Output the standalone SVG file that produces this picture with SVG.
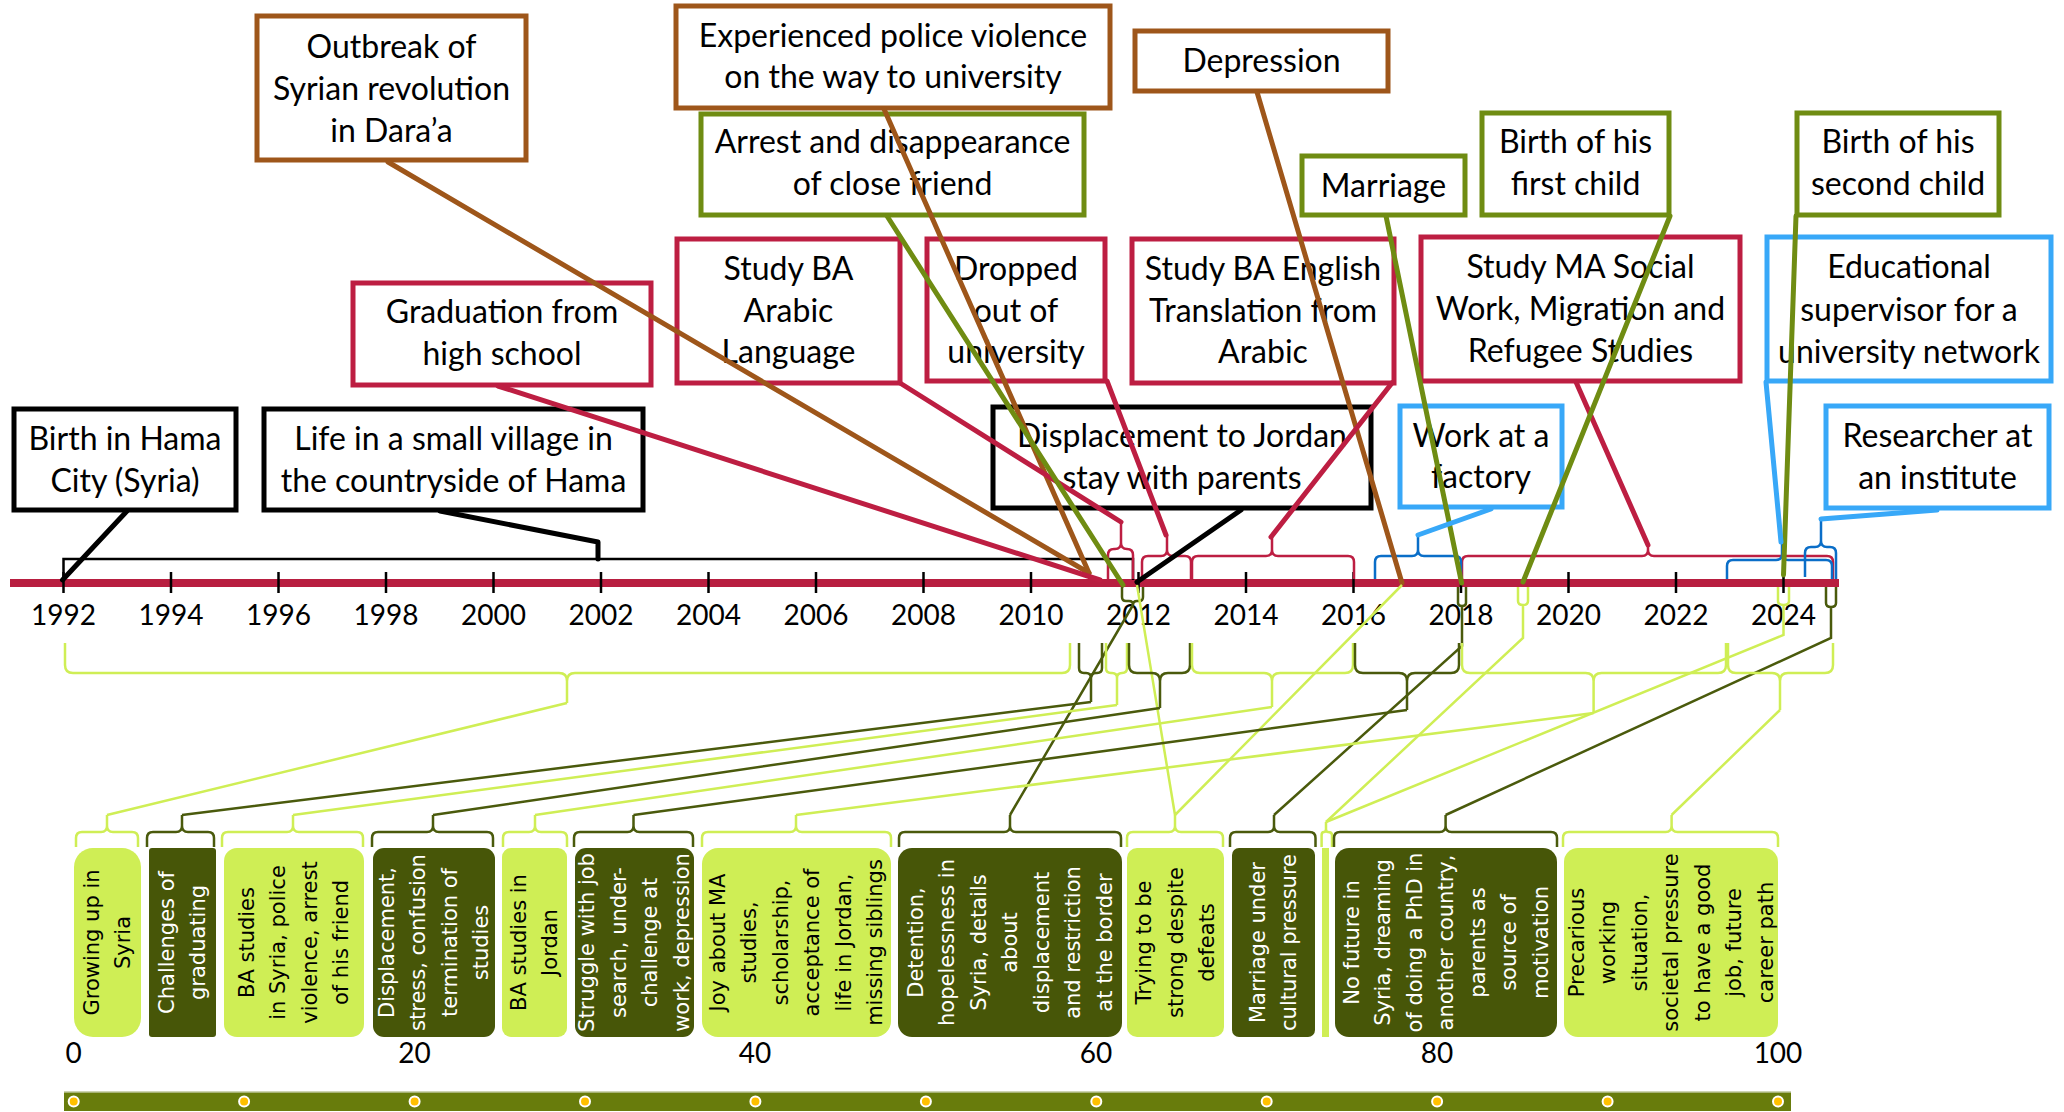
<svg xmlns="http://www.w3.org/2000/svg" width="2064" height="1112" viewBox="0 0 2064 1112">
<style>
.box{fill:#fff;stroke-width:5}
.brn{stroke:#9E561A}.red{stroke:#BD1E42}.grn{stroke:#6F8C12}.blu{stroke:#38A8F8}.blk{stroke:#000}
.t{font-family:Lato,'Liberation Sans',sans-serif;font-size:32px;text-anchor:middle;fill:#000}
.yr{font-family:Lato,'Liberation Sans',sans-serif;font-size:28px;text-anchor:middle;fill:#000}
.cn{fill:none;stroke-width:5;stroke-linecap:round;stroke-linejoin:round}
.bra{fill:none;stroke-width:2.5}
.rb{stroke:#BD1E42}.bb{stroke:#0A6EC8}.lg{stroke:#CFEE55}.dg{stroke:#4A5A0C}
.lbox{fill:#CFEE55}.dbox{fill:#475608}
.bt{font-family:'DejaVu Sans',Verdana,sans-serif;font-size:21px;text-anchor:middle}
.bk{fill:#000}.wh{fill:#fff}
.tick{stroke:#000;stroke-width:2.5}
</style>

<g id="axis">
<line x1="10" y1="583" x2="1839" y2="583" stroke="#B81E40" stroke-width="8"/>
<g class="tick">
<line x1="63.5" y1="572" x2="63.5" y2="593"/><line x1="171" y1="572" x2="171" y2="593"/><line x1="278.5" y1="572" x2="278.5" y2="593"/><line x1="386" y1="572" x2="386" y2="593"/><line x1="493.5" y1="572" x2="493.5" y2="593"/><line x1="601" y1="572" x2="601" y2="593"/><line x1="708.5" y1="572" x2="708.5" y2="593"/><line x1="816" y1="572" x2="816" y2="593"/><line x1="923.5" y1="572" x2="923.5" y2="593"/><line x1="1031" y1="572" x2="1031" y2="593"/><line x1="1138.5" y1="572" x2="1138.5" y2="593"/><line x1="1246" y1="572" x2="1246" y2="593"/><line x1="1353.5" y1="572" x2="1353.5" y2="593"/><line x1="1461" y1="572" x2="1461" y2="593"/><line x1="1568.5" y1="572" x2="1568.5" y2="593"/><line x1="1676" y1="572" x2="1676" y2="593"/><line x1="1783.5" y1="572" x2="1783.5" y2="593"/>
</g>
<g class="yr">
<text x="63.5" y="625">1992</text><text x="171" y="625">1994</text><text x="278.5" y="625">1996</text><text x="386" y="625">1998</text><text x="493.5" y="625">2000</text><text x="601" y="625">2002</text><text x="708.5" y="625">2004</text><text x="816" y="625">2006</text><text x="923.5" y="625">2008</text><text x="1031" y="625">2010</text><text x="1138.5" y="625">2012</text><text x="1246" y="625">2014</text><text x="1353.5" y="625">2016</text><text x="1461" y="625">2018</text><text x="1568.5" y="625">2020</text><text x="1676" y="625">2022</text><text x="1783.5" y="625">2024</text>
</g>
</g>

<g id="scale">
<g class="yr">
<text x="73.7" y="1063">0</text><text x="414.5" y="1063">20</text><text x="755" y="1063">40</text><text x="1096" y="1063">60</text><text x="1437" y="1063">80</text><text x="1778" y="1063">100</text>
</g>
<rect x="64" y="1092" width="1727" height="19" fill="#687C0C"/>
<line x1="64" y1="1092" x2="1791" y2="1092" stroke="#BCC69A" stroke-width="1.5"/>
<g fill="#FFC000" stroke="#fff" stroke-width="2">
<circle cx="73.7" cy="1101.5" r="5"/><circle cx="244.1" cy="1101.5" r="5"/><circle cx="414.6" cy="1101.5" r="5"/><circle cx="585" cy="1101.5" r="5"/><circle cx="755.4" cy="1101.5" r="5"/><circle cx="925.9" cy="1101.5" r="5"/><circle cx="1096.3" cy="1101.5" r="5"/><circle cx="1266.7" cy="1101.5" r="5"/><circle cx="1437.1" cy="1101.5" r="5"/><circle cx="1607.6" cy="1101.5" r="5"/><circle cx="1778" cy="1101.5" r="5"/>
</g>
</g>

<!-- top event nodes -->
<g id="n-outbreak"><rect class="box brn" x="257" y="16" width="269" height="144"/><text class="t" x="391.5" y="58">Outbreak of</text><text class="t" x="391.5" y="100">Syrian revolution</text><text class="t" x="391.5" y="142">in Dara’a</text></g>
<g id="n-police"><rect class="box brn" x="676" y="6" width="434" height="102"/><text class="t" x="893" y="47">Experienced police violence</text><text class="t" x="893" y="88">on the way to university</text></g>
<g id="n-depression"><rect class="box brn" x="1135" y="31" width="253" height="60"/><text class="t" x="1261.5" y="72">Depression</text></g>
<g id="n-arrest"><rect class="box grn" x="701" y="114" width="383" height="101"/><text class="t" x="892.5" y="153">Arrest and disappearance</text><text class="t" x="892.5" y="195">of close friend</text></g>
<g id="n-marriage"><rect class="box grn" x="1302" y="156" width="163" height="59"/><text class="t" x="1383.5" y="197">Marriage</text></g>
<g id="n-child1"><rect class="box grn" x="1482" y="113" width="187" height="102"/><text class="t" x="1575.5" y="153">Birth of his</text><text class="t" x="1575.5" y="195">first child</text></g>
<g id="n-child2"><rect class="box grn" x="1797" y="113" width="202" height="102"/><text class="t" x="1898" y="153">Birth of his</text><text class="t" x="1898" y="195">second child</text></g>
<g id="n-graduation"><rect class="box red" x="353" y="283" width="298" height="102"/><text class="t" x="502" y="323">Graduation from</text><text class="t" x="502" y="365">high school</text></g>
<g id="n-ba-arabic"><rect class="box red" x="677" y="239" width="223" height="144"/><text class="t" x="788.5" y="280">Study BA</text><text class="t" x="788.5" y="322">Arabic</text><text class="t" x="788.5" y="363">Language</text></g>
<g id="n-dropped"><rect class="box red" x="927" y="239" width="178" height="142"/><text class="t" x="1016" y="280">Dropped</text><text class="t" x="1016" y="322">out of</text><text class="t" x="1016" y="363">university</text></g>
<g id="n-ba-english"><rect class="box red" x="1132" y="239" width="262" height="144"/><text class="t" x="1263" y="280">Study BA English</text><text class="t" x="1263" y="322">Translation from</text><text class="t" x="1263" y="363">Arabic</text></g>
<g id="n-ma"><rect class="box red" x="1421" y="237" width="319" height="144"/><text class="t" x="1580.5" y="278">Study MA Social</text><text class="t" x="1580.5" y="320">Work, Migration and</text><text class="t" x="1580.5" y="362">Refugee Studies</text></g>
<g id="n-supervisor"><rect class="box blu" x="1767" y="237" width="284" height="144"/><text class="t" x="1909" y="278">Educational</text><text class="t" x="1909" y="321">supervisor for a</text><text class="t" x="1909" y="363">university network</text></g>
<g id="n-birth"><rect class="box blk" x="14" y="409" width="222" height="101"/><text class="t" x="125" y="450">Birth in Hama</text><text class="t" x="125" y="492">City (Syria)</text></g>
<g id="n-village"><rect class="box blk" x="264" y="409" width="379" height="101"/><text class="t" x="453.5" y="450">Life in a small village in</text><text class="t" x="453.5" y="492">the countryside of Hama</text></g>
<g id="n-displacement"><rect class="box blk" x="993" y="407" width="378" height="101"/><text class="t" x="1182" y="447">Displacement to Jordan</text><text class="t" x="1182" y="489">stay with parents</text></g>
<g id="n-factory"><rect class="box blu" x="1400" y="406" width="162" height="101"/><text class="t" x="1481" y="447">Work at a</text><text class="t" x="1481" y="488">factory</text></g>
<g id="n-researcher"><rect class="box blu" x="1826" y="406" width="223" height="102"/><text class="t" x="1937.5" y="447">Researcher at</text><text class="t" x="1937.5" y="489">an institute</text></g>

<!-- bottom theme nodes -->
<g id="b-growing"><rect class="lbox" x="74" y="848" width="67" height="189" rx="19"/><g class="bt bk" transform="translate(107.5,942.5) rotate(-90)"><text y="-8.75">Growing up in</text><text y="22.75">Syria</text></g></g>
<g id="b-challenges"><rect class="dbox" x="149" y="848" width="67" height="189" rx="3"/><g class="bt wh" transform="translate(182.5,942.5) rotate(-90)"><text y="-8.75">Challenges of</text><text y="22.75">graduating</text></g></g>
<g id="b-ba-syria"><rect class="lbox" x="224" y="848" width="140" height="189" rx="13"/><g class="bt bk" transform="translate(294,942.5) rotate(-90)"><text y="-40.25">BA studies</text><text y="-8.75">in Syria, police</text><text y="22.75">violence, arrest</text><text y="54.25">of his friend</text></g></g>
<g id="b-displacement"><rect class="dbox" x="373" y="848" width="122" height="189" rx="11"/><g class="bt wh" transform="translate(434,942.5) rotate(-90)"><text y="-40.25">Displacement,</text><text y="-8.75">stress, confusion</text><text y="22.75">termination of</text><text y="54.25">studies</text></g></g>
<g id="b-ba-jordan"><rect class="lbox" x="502" y="848" width="65" height="189" rx="9"/><g class="bt bk" transform="translate(534.5,942.5) rotate(-90)"><text y="-8.75">BA studies in</text><text y="22.75">Jordan</text></g></g>
<g id="b-struggle"><rect class="dbox" x="575" y="848" width="119" height="189" rx="11"/><g class="bt wh" transform="translate(634.5,942.5) rotate(-90)"><text y="-40.25">Struggle with job</text><text y="-8.75">search, under-</text><text y="22.75">challenge at</text><text y="54.25">work, depression</text></g></g>
<g id="b-joy"><rect class="lbox" x="702" y="848" width="189" height="189" rx="16"/><g class="bt bk" transform="translate(796.5,942.5) rotate(-90)"><text y="-71.75">Joy about MA</text><text y="-40.25">studies,</text><text y="-8.75">scholarship,</text><text y="22.75">acceptance of</text><text y="54.25">life in Jordan,</text><text y="85.75">missing siblings</text></g></g>
<g id="b-detention"><rect class="dbox" x="898" y="848" width="224" height="189" rx="14"/><g class="bt wh" transform="translate(1010,942.5) rotate(-90)"><text y="-87.5">Detention,</text><text y="-56">hopelessness in</text><text y="-24.5">Syria, details</text><text y="7">about</text><text y="38.5">displacement</text><text y="70">and restriction</text><text y="101.5">at the border</text></g></g>
<g id="b-trying"><rect class="lbox" x="1127" y="848" width="97" height="189" rx="10"/><g class="bt bk" transform="translate(1175.5,942.5) rotate(-90)"><text y="-24.5">Trying to be</text><text y="7">strong despite</text><text y="38.5">defeats</text></g></g>
<g id="b-marriage"><rect class="dbox" x="1232" y="848" width="83" height="189" rx="7"/><g class="bt wh" transform="translate(1273.5,942.5) rotate(-90)"><text y="-8.75">Marriage under</text><text y="22.75">cultural pressure</text></g></g>
<g id="b-tiny"><rect class="lbox" x="1322" y="848" width="7" height="189"/></g>
<g id="b-nofuture"><rect class="dbox" x="1335" y="848" width="222" height="189" rx="14"/><g class="bt wh" transform="translate(1446,942.5) rotate(-90)"><text y="-87.5">No future in</text><text y="-56">Syria, dreaming</text><text y="-24.5">of doing a PhD in</text><text y="7">another country,</text><text y="38.5">parents as</text><text y="70">source of</text><text y="101.5">motivation</text></g></g>
<g id="b-precarious"><rect class="lbox" x="1564" y="848" width="214" height="189" rx="14"/><g class="bt bk" transform="translate(1671,942.5) rotate(-90)"><text y="-87.5">Precarious</text><text y="-56">working</text><text y="-24.5">situation,</text><text y="7">societal pressure</text><text y="38.5">to have a good</text><text y="70">job, future</text><text y="101.5">career path</text></g></g>

<g id="connectors">
<!-- period brackets above axis -->
<path class="bra blk" stroke-width="2.5" fill="none" d="M63.5,580 V559 H1133 V580"/>
<path class="bra rb" d="M1108,579 V555 Q1108,549 1114,549 H1115 Q1121,549 1121,543 V522 M1121,543 Q1121,549 1127,549 Q1133,549 1133,555 V579"/>
<path class="bra rb" d="M1142,579 V562 Q1142,556 1148,556 H1161 Q1167,556 1167,550 V535 M1167,550 Q1167,556 1173,556 H1185 Q1191,556 1191,562 V579"/>
<path class="bra rb" d="M1192,579 V562 Q1192,556 1198,556 H1266 Q1272,556 1272,550 V537 M1272,550 Q1272,556 1278,556 H1348 Q1354,556 1354,562 V579"/>
<path class="bra rb" d="M1462,579 V562 Q1462,556 1468,556 H1642 Q1648,556 1648,550 V545 M1648,550 Q1648,556 1654,556 H1827 Q1833,556 1833,562 V579"/>
<path class="bra bb" d="M1375,579 V562 Q1375,556 1381,556 H1412 Q1418,556 1418,550 V535 M1418,550 Q1418,556 1424,556 H1455 Q1461,556 1461,562 V579"/>
<path class="bra bb" d="M1727,579 V566 Q1727,560 1733,560 H1776 Q1782,560 1782,554 V542 M1782,554 Q1782,560 1788,560 H1826 Q1832,560 1832,566 V579"/>
<path class="bra bb" d="M1805,577 V553 Q1805,547 1811,547 H1815 Q1821,547 1821,541 V519 M1821,541 Q1821,547 1827,547 H1830 Q1836,547 1836,553 V579"/>

<!-- event connectors -->
<path class="cn blk" d="M127,511 L62.5,580"/>
<path class="cn blk" d="M440,511 L598,542 V559"/>
<path class="cn blk" d="M1241,510 L1137,582"/>
<path class="cn brn" d="M388,162 L1089,573"/>
<path class="cn brn" d="M884,109 L1089,573"/>
<path class="cn brn" d="M1257,92 L1402,583"/>
<path class="cn red" d="M498,386 L1100,580"/>
<path class="cn red" d="M900,383 L1121,522"/>
<path class="cn red" d="M1107,381 L1166,535"/>
<path class="cn red" d="M1392,383 L1271,537"/>
<path class="cn red" d="M1576,382 L1648,545"/>
<path class="cn grn" d="M887,216 L1123,585"/>
<path class="cn grn" d="M1386,216 L1461.6,583"/>
<path class="cn grn" d="M1670,216 L1523,582"/>
<path class="cn grn" d="M1796,216 L1783.5,575"/>
<path class="cn blu" d="M1766,382 L1781,542"/>
<path class="cn blu" d="M1491,509 L1418,535"/>
<path class="cn blu" d="M1937,510 L1821,519"/>

<!-- braces below axis -->
<path class="bra dg" d="M1122,587 V597 Q1122,601 1126,601 H1129 Q1133,601 1133,605 M1133,605 Q1133,601 1137,601 H1139 Q1143,601 1143,597 V587 M1133,605 L1010,815"/>
<path class="bra dg" d="M1458,587 V603 Q1458,606 1462,606 Q1466,606 1466,603 V587 M1462,606 V646 L1274,815"/>
<path class="bra lg" d="M1518,587 V601 Q1518,605 1523,605 Q1528,605 1528,601 V587 M1523,605 V638 L1326,822"/>
<path class="bra lg" d="M1778,587 V601 Q1778,605 1783.5,605 Q1789,605 1789,601 V587 M1783.5,605 V635 L1326,822"/>
<path class="bra dg" d="M1826,587 V603 Q1826,607 1831,607 Q1836,607 1836,603 V587 M1831,607 V638 L1445.6,815"/>
<path class="bra lg" d="M1137,585 L1175,815 M1402,585 L1175,815"/>

<path class="bra lg" d="M65,643 V665 Q65,673 73,673 H559 Q567,673 567,681 V703 M567,681 Q567,673 575,673 H1062 Q1070,673 1070,665 V643 M567,703 L107,815"/>
<path class="bra dg" d="M1079,643 V668 Q1079,673 1084,673 H1086 Q1091,673 1091,678 V702 M1091,678 Q1091,673 1096,673 H1097 Q1102,673 1102,668 V643 M1091,702 L182,815"/>
<path class="bra lg" d="M1106,643 V668 Q1106,673 1111,673 H1112 Q1117,673 1117,678 V705 M1117,678 Q1117,673 1122,673 Q1127,673 1127,668 V643 M1117,705 L293,815"/>
<path class="bra dg" d="M1129,643 V665 Q1129,673 1137,673 H1152 Q1160,673 1160,681 V708 M1160,681 Q1160,673 1168,673 H1182 Q1190,673 1190,665 V643 M1160,708 L433,815"/>
<path class="bra lg" d="M1192,643 V665 Q1192,673 1200,673 H1264 Q1272,673 1272,681 V707 M1272,681 Q1272,673 1280,673 H1345 Q1353,673 1353,665 V643 M1272,707 L535,815"/>
<path class="bra dg" d="M1355,643 V665 Q1355,673 1363,673 H1399 Q1407,673 1407,681 V710 M1407,681 Q1407,673 1415,673 H1451 Q1459,673 1459,665 V643 M1407,710 L633.5,815"/>
<path class="bra lg" d="M1462,643 V665 Q1462,673 1470,673 H1585.6 Q1593.6,673 1593.6,681 V713 M1593.6,681 Q1593.6,673 1601.6,673 H1718 Q1726,673 1726,665 V643 M1593.6,713 L796,815"/>
<path class="bra lg" d="M1728,643 V665 Q1728,673 1736,673 H1772 Q1780,673 1780,681 V710 M1780,681 Q1780,673 1788,673 H1825 Q1833,673 1833,665 V643 M1780,710 L1671.6,815"/>

<!-- braces above theme boxes -->
<path class="bra lg" d="M76,847 V838 Q76,832 82,832 H101 Q107,832 107,826 V815 M107,826 Q107,832 113,832 H132 Q138,832 138,838 V847"/>
<path class="bra dg" d="M147,847 V838 Q147,832 153,832 H176 Q182,832 182,826 V815 M182,826 Q182,832 188,832 H208 Q214,832 214,838 V847"/>
<path class="bra lg" d="M222,847 V838 Q222,832 228,832 H287 Q293,832 293,826 V815 M293,826 Q293,832 299,832 H357 Q363,832 363,838 V847"/>
<path class="bra dg" d="M372,847 V838 Q372,832 378,832 H427 Q433,832 433,826 V815 M433,826 Q433,832 439,832 H487 Q493,832 493,838 V847"/>
<path class="bra lg" d="M503,847 V838 Q503,832 509,832 H529 Q535,832 535,826 V815 M535,826 Q535,832 541,832 H561 Q567,832 567,838 V847"/>
<path class="bra dg" d="M574,847 V838 Q574,832 580,832 H627.5 Q633.5,832 633.5,826 V815 M633.5,826 Q633.5,832 639.5,832 H687 Q693,832 693,838 V847"/>
<path class="bra lg" d="M702,847 V838 Q702,832 708,832 H790 Q796,832 796,826 V815 M796,826 Q796,832 802,832 H885 Q891,832 891,838 V847"/>
<path class="bra dg" d="M899,847 V838 Q899,832 905,832 H1004 Q1010,832 1010,826 V815 M1010,826 Q1010,832 1016,832 H1115 Q1121,832 1121,838 V847"/>
<path class="bra lg" d="M1127,847 V838 Q1127,832 1133,832 H1169 Q1175,832 1175,826 V815 M1175,826 Q1175,832 1181,832 H1217 Q1223,832 1223,838 V847"/>
<path class="bra dg" d="M1230,847 V838 Q1230,832 1236,832 H1268 Q1274,832 1274,826 V815 M1274,826 Q1274,832 1280,832 H1309.5 Q1315.5,832 1315.5,838 V847"/>
<path class="bra lg" d="M1321.6,847 V835 Q1321.6,832 1324,832 Q1326,832 1326,829 V822 M1326,829 Q1326,832 1328,832 Q1332,832 1332,835 V847"/>
<path class="bra dg" d="M1334,847 V838 Q1334,832 1340,832 H1439.6 Q1445.6,832 1445.6,826 V815 M1445.6,826 Q1445.6,832 1451.6,832 H1551 Q1557,832 1557,838 V847"/>
<path class="bra lg" d="M1563,847 V838 Q1563,832 1569,832 H1665.6 Q1671.6,832 1671.6,826 V815 M1671.6,826 Q1671.6,832 1677.6,832 H1772 Q1778,832 1778,838 V847"/>
</g>
</svg>
